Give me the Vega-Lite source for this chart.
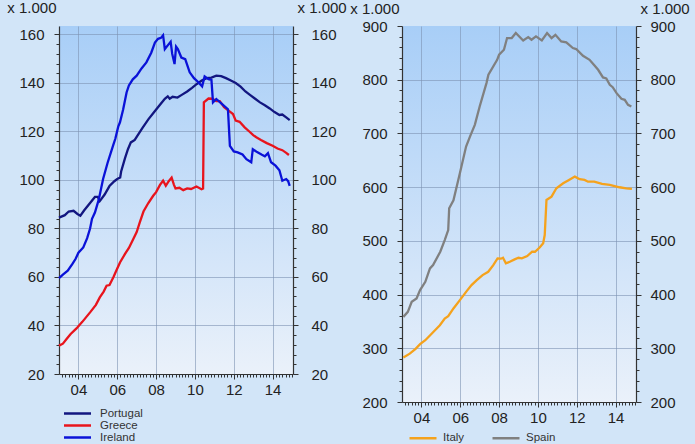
{
  "$schema": "https://vega.github.io/schema/vega-lite/v6.json",
  "background": "#d2e5f8",
  "padding": {"left": 6, "top": 0, "right": 5, "bottom": 0},
  "spacing": 2,
  "config": {
    "view": {"stroke": null, "fill": {"gradient": "linear", "x1": 0, "y1": 0, "x2": 0, "y2": 1, "stops": [{"offset": 0, "color": "#a8cef7"}, {"offset": 1, "color": "#eaf1fa"}]}},
    "font": "Liberation Sans",
    "axis": {"labelFont": "Liberation Sans", "labelFontSize": 15, "labelColor": "#222222", "domainColor": "#333333", "domainWidth": 1.2, "tickColor": "#333333", "gridColor": "#7d93b2", "titleFont": "Liberation Sans", "titleFontSize": 15, "titleFontWeight": "normal", "titleColor": "#222222", "labelOverlap": false, "labelFlush": false},
    "legend": {"labelFont": "Liberation Sans", "labelFontSize": 11.5, "labelColor": "#333333", "symbolStrokeWidth": 2.5, "padding": 0, "title": null}
  },
  "resolve": {"scale": {"color": "independent"}},
  "datasets": {
    "left": [
      {"country": "Portugal", "t": 2003.0, "v": 84.5}, {"country": "Portugal", "t": 2003.3, "v": 85.5}, {"country": "Portugal", "t": 2003.5, "v": 87}, {"country": "Portugal", "t": 2003.75, "v": 87.3}, {"country": "Portugal", "t": 2003.95, "v": 86}, {"country": "Portugal", "t": 2004.1, "v": 85.3}, {"country": "Portugal", "t": 2004.3, "v": 87.5}, {"country": "Portugal", "t": 2004.6, "v": 90.5}, {"country": "Portugal", "t": 2004.85, "v": 93}, {"country": "Portugal", "t": 2005.0, "v": 93}, {"country": "Portugal", "t": 2005.1, "v": 91.3}, {"country": "Portugal", "t": 2005.35, "v": 94}, {"country": "Portugal", "t": 2005.6, "v": 97.5}, {"country": "Portugal", "t": 2005.85, "v": 99.5}, {"country": "Portugal", "t": 2006.0, "v": 100.4}, {"country": "Portugal", "t": 2006.15, "v": 101}, {"country": "Portugal", "t": 2006.2, "v": 103.5}, {"country": "Portugal", "t": 2006.4, "v": 109}, {"country": "Portugal", "t": 2006.55, "v": 112.7}, {"country": "Portugal", "t": 2006.7, "v": 115.5}, {"country": "Portugal", "t": 2006.9, "v": 116.5}, {"country": "Portugal", "t": 2007.1, "v": 119}, {"country": "Portugal", "t": 2007.3, "v": 121.5}, {"country": "Portugal", "t": 2007.6, "v": 125}, {"country": "Portugal", "t": 2007.9, "v": 128}, {"country": "Portugal", "t": 2008.2, "v": 131}, {"country": "Portugal", "t": 2008.45, "v": 133.5}, {"country": "Portugal", "t": 2008.6, "v": 134.5}, {"country": "Portugal", "t": 2008.7, "v": 133.5}, {"country": "Portugal", "t": 2008.85, "v": 134.3}, {"country": "Portugal", "t": 2009.1, "v": 134}, {"country": "Portugal", "t": 2009.3, "v": 135}, {"country": "Portugal", "t": 2009.6, "v": 136.5}, {"country": "Portugal", "t": 2009.85, "v": 138}, {"country": "Portugal", "t": 2010.1, "v": 139.6}, {"country": "Portugal", "t": 2010.35, "v": 141}, {"country": "Portugal", "t": 2010.6, "v": 142}, {"country": "Portugal", "t": 2010.85, "v": 142.2}, {"country": "Portugal", "t": 2011.1, "v": 143}, {"country": "Portugal", "t": 2011.35, "v": 142.8}, {"country": "Portugal", "t": 2011.6, "v": 142}, {"country": "Portugal", "t": 2011.85, "v": 141}, {"country": "Portugal", "t": 2012.1, "v": 140}, {"country": "Portugal", "t": 2012.35, "v": 138.5}, {"country": "Portugal", "t": 2012.6, "v": 136.5}, {"country": "Portugal", "t": 2012.85, "v": 135}, {"country": "Portugal", "t": 2013.1, "v": 133.5}, {"country": "Portugal", "t": 2013.35, "v": 132}, {"country": "Portugal", "t": 2013.6, "v": 130.8}, {"country": "Portugal", "t": 2013.85, "v": 129.5}, {"country": "Portugal", "t": 2014.1, "v": 128}, {"country": "Portugal", "t": 2014.35, "v": 126.8}, {"country": "Portugal", "t": 2014.5, "v": 127}, {"country": "Portugal", "t": 2014.7, "v": 125.8}, {"country": "Portugal", "t": 2014.88, "v": 124.7},
      {"country": "Greece", "t": 2003.0, "v": 31.7}, {"country": "Greece", "t": 2003.2, "v": 32.5}, {"country": "Greece", "t": 2003.4, "v": 34.5}, {"country": "Greece", "t": 2003.6, "v": 36.5}, {"country": "Greece", "t": 2003.9, "v": 38.8}, {"country": "Greece", "t": 2004.2, "v": 41.5}, {"country": "Greece", "t": 2004.6, "v": 45.4}, {"country": "Greece", "t": 2004.9, "v": 48.5}, {"country": "Greece", "t": 2005.1, "v": 51.6}, {"country": "Greece", "t": 2005.3, "v": 54}, {"country": "Greece", "t": 2005.45, "v": 56.4}, {"country": "Greece", "t": 2005.6, "v": 56.7}, {"country": "Greece", "t": 2005.8, "v": 59.9}, {"country": "Greece", "t": 2006.0, "v": 63.5}, {"country": "Greece", "t": 2006.14, "v": 66}, {"country": "Greece", "t": 2006.4, "v": 69.5}, {"country": "Greece", "t": 2006.6, "v": 72}, {"country": "Greece", "t": 2006.82, "v": 75.6}, {"country": "Greece", "t": 2007.0, "v": 78.5}, {"country": "Greece", "t": 2007.16, "v": 82.5}, {"country": "Greece", "t": 2007.35, "v": 87}, {"country": "Greece", "t": 2007.6, "v": 90.5}, {"country": "Greece", "t": 2007.85, "v": 93.5}, {"country": "Greece", "t": 2008.0, "v": 95}, {"country": "Greece", "t": 2008.2, "v": 98}, {"country": "Greece", "t": 2008.36, "v": 99.7}, {"country": "Greece", "t": 2008.5, "v": 97.6}, {"country": "Greece", "t": 2008.65, "v": 99.5}, {"country": "Greece", "t": 2008.8, "v": 101}, {"country": "Greece", "t": 2008.92, "v": 98}, {"country": "Greece", "t": 2009.0, "v": 96.5}, {"country": "Greece", "t": 2009.2, "v": 96.8}, {"country": "Greece", "t": 2009.4, "v": 95.8}, {"country": "Greece", "t": 2009.6, "v": 96.5}, {"country": "Greece", "t": 2009.8, "v": 96.3}, {"country": "Greece", "t": 2010.08, "v": 97.3}, {"country": "Greece", "t": 2010.34, "v": 96.2}, {"country": "Greece", "t": 2010.42, "v": 96.5}, {"country": "Greece", "t": 2010.46, "v": 132}, {"country": "Greece", "t": 2010.7, "v": 133.6}, {"country": "Greece", "t": 2010.9, "v": 133.5}, {"country": "Greece", "t": 2011.1, "v": 132.5}, {"country": "Greece", "t": 2011.28, "v": 132.5}, {"country": "Greece", "t": 2011.5, "v": 130}, {"country": "Greece", "t": 2011.75, "v": 128.5}, {"country": "Greece", "t": 2011.96, "v": 127.2}, {"country": "Greece", "t": 2012.1, "v": 124.5}, {"country": "Greece", "t": 2012.3, "v": 124}, {"country": "Greece", "t": 2012.56, "v": 121.7}, {"country": "Greece", "t": 2012.8, "v": 120}, {"country": "Greece", "t": 2013.0, "v": 118.5}, {"country": "Greece", "t": 2013.16, "v": 117.6}, {"country": "Greece", "t": 2013.4, "v": 116.5}, {"country": "Greece", "t": 2013.7, "v": 115.2}, {"country": "Greece", "t": 2014.0, "v": 114.1}, {"country": "Greece", "t": 2014.25, "v": 113}, {"country": "Greece", "t": 2014.5, "v": 112.3}, {"country": "Greece", "t": 2014.7, "v": 111.2}, {"country": "Greece", "t": 2014.84, "v": 110.3},
      {"country": "Ireland", "t": 2003.0, "v": 59.5}, {"country": "Ireland", "t": 2003.2, "v": 61}, {"country": "Ireland", "t": 2003.45, "v": 62.6}, {"country": "Ireland", "t": 2003.7, "v": 65.5}, {"country": "Ireland", "t": 2003.85, "v": 67.4}, {"country": "Ireland", "t": 2004.0, "v": 70}, {"country": "Ireland", "t": 2004.25, "v": 72.2}, {"country": "Ireland", "t": 2004.45, "v": 76}, {"country": "Ireland", "t": 2004.6, "v": 80}, {"country": "Ireland", "t": 2004.7, "v": 84}, {"country": "Ireland", "t": 2004.85, "v": 86.6}, {"country": "Ireland", "t": 2005.05, "v": 92}, {"country": "Ireland", "t": 2005.27, "v": 100.4}, {"country": "Ireland", "t": 2005.5, "v": 107}, {"country": "Ireland", "t": 2005.78, "v": 114.1}, {"country": "Ireland", "t": 2005.9, "v": 117}, {"country": "Ireland", "t": 2006.05, "v": 122}, {"country": "Ireland", "t": 2006.14, "v": 123.8}, {"country": "Ireland", "t": 2006.3, "v": 129}, {"country": "Ireland", "t": 2006.48, "v": 136.1}, {"country": "Ireland", "t": 2006.6, "v": 139}, {"country": "Ireland", "t": 2006.8, "v": 141.5}, {"country": "Ireland", "t": 2007.0, "v": 143}, {"country": "Ireland", "t": 2007.25, "v": 146}, {"country": "Ireland", "t": 2007.5, "v": 148.5}, {"country": "Ireland", "t": 2007.75, "v": 152.5}, {"country": "Ireland", "t": 2007.94, "v": 156.7}, {"country": "Ireland", "t": 2008.1, "v": 158.2}, {"country": "Ireland", "t": 2008.25, "v": 158.6}, {"country": "Ireland", "t": 2008.36, "v": 159.7}, {"country": "Ireland", "t": 2008.45, "v": 154}, {"country": "Ireland", "t": 2008.6, "v": 155.5}, {"country": "Ireland", "t": 2008.75, "v": 157}, {"country": "Ireland", "t": 2008.83, "v": 152}, {"country": "Ireland", "t": 2008.95, "v": 147.8}, {"country": "Ireland", "t": 2009.03, "v": 155}, {"country": "Ireland", "t": 2009.12, "v": 154}, {"country": "Ireland", "t": 2009.3, "v": 150.5}, {"country": "Ireland", "t": 2009.5, "v": 149.8}, {"country": "Ireland", "t": 2009.73, "v": 144.4}, {"country": "Ireland", "t": 2009.95, "v": 142}, {"country": "Ireland", "t": 2010.15, "v": 140.5}, {"country": "Ireland", "t": 2010.37, "v": 138.6}, {"country": "Ireland", "t": 2010.5, "v": 142.7}, {"country": "Ireland", "t": 2010.7, "v": 141.6}, {"country": "Ireland", "t": 2010.85, "v": 141.3}, {"country": "Ireland", "t": 2010.93, "v": 132}, {"country": "Ireland", "t": 2011.1, "v": 133.4}, {"country": "Ireland", "t": 2011.4, "v": 131.3}, {"country": "Ireland", "t": 2011.7, "v": 129.2}, {"country": "Ireland", "t": 2011.8, "v": 114.1}, {"country": "Ireland", "t": 2012.0, "v": 111.8}, {"country": "Ireland", "t": 2012.2, "v": 111.4}, {"country": "Ireland", "t": 2012.45, "v": 110.5}, {"country": "Ireland", "t": 2012.65, "v": 108.6}, {"country": "Ireland", "t": 2012.9, "v": 107.3}, {"country": "Ireland", "t": 2012.98, "v": 112.7}, {"country": "Ireland", "t": 2013.2, "v": 111.5}, {"country": "Ireland", "t": 2013.45, "v": 110.4}, {"country": "Ireland", "t": 2013.6, "v": 109.8}, {"country": "Ireland", "t": 2013.76, "v": 111.1}, {"country": "Ireland", "t": 2013.92, "v": 107.3}, {"country": "Ireland", "t": 2014.15, "v": 105.9}, {"country": "Ireland", "t": 2014.35, "v": 104}, {"country": "Ireland", "t": 2014.5, "v": 99.7}, {"country": "Ireland", "t": 2014.7, "v": 100.4}, {"country": "Ireland", "t": 2014.8, "v": 99.5}, {"country": "Ireland", "t": 2014.88, "v": 97.6}
    ],
    "right": [
      {"country": "Italy", "t": 2003.07, "v": 282.8}, {"country": "Italy", "t": 2003.4, "v": 290}, {"country": "Italy", "t": 2003.7, "v": 299}, {"country": "Italy", "t": 2003.93, "v": 307.6}, {"country": "Italy", "t": 2004.2, "v": 315}, {"country": "Italy", "t": 2004.45, "v": 324.4}, {"country": "Italy", "t": 2004.7, "v": 333.7}, {"country": "Italy", "t": 2004.95, "v": 343}, {"country": "Italy", "t": 2005.2, "v": 355.5}, {"country": "Italy", "t": 2005.38, "v": 359.8}, {"country": "Italy", "t": 2005.65, "v": 374.2}, {"country": "Italy", "t": 2005.98, "v": 389.6}, {"country": "Italy", "t": 2006.3, "v": 405.1}, {"country": "Italy", "t": 2006.58, "v": 417.6}, {"country": "Italy", "t": 2006.85, "v": 426.9}, {"country": "Italy", "t": 2007.15, "v": 436.2}, {"country": "Italy", "t": 2007.44, "v": 442.4}, {"country": "Italy", "t": 2007.7, "v": 454.9}, {"country": "Italy", "t": 2007.92, "v": 467.4}, {"country": "Italy", "t": 2008.1, "v": 466.8}, {"country": "Italy", "t": 2008.2, "v": 468.5}, {"country": "Italy", "t": 2008.35, "v": 458.1}, {"country": "Italy", "t": 2008.55, "v": 461}, {"country": "Italy", "t": 2008.8, "v": 465.5}, {"country": "Italy", "t": 2009.0, "v": 468.5}, {"country": "Italy", "t": 2009.17, "v": 467.4}, {"country": "Italy", "t": 2009.45, "v": 471.7}, {"country": "Italy", "t": 2009.7, "v": 480}, {"country": "Italy", "t": 2009.85, "v": 479.7}, {"country": "Italy", "t": 2010.1, "v": 488}, {"country": "Italy", "t": 2010.27, "v": 495.4}, {"country": "Italy", "t": 2010.35, "v": 510.8}, {"country": "Italy", "t": 2010.44, "v": 576.1}, {"country": "Italy", "t": 2010.7, "v": 582.3}, {"country": "Italy", "t": 2010.95, "v": 597.9}, {"country": "Italy", "t": 2011.3, "v": 607.2}, {"country": "Italy", "t": 2011.6, "v": 613.4}, {"country": "Italy", "t": 2011.9, "v": 619.6}, {"country": "Italy", "t": 2012.15, "v": 614.7}, {"country": "Italy", "t": 2012.4, "v": 613.4}, {"country": "Italy", "t": 2012.58, "v": 610.2}, {"country": "Italy", "t": 2012.9, "v": 610.2}, {"country": "Italy", "t": 2013.3, "v": 605.9}, {"country": "Italy", "t": 2013.7, "v": 604.1}, {"country": "Italy", "t": 2014.0, "v": 601.5}, {"country": "Italy", "t": 2014.2, "v": 599.8}, {"country": "Italy", "t": 2014.55, "v": 597.9}, {"country": "Italy", "t": 2014.84, "v": 596.6},
      {"country": "Spain", "t": 2003.07, "v": 358.5}, {"country": "Spain", "t": 2003.3, "v": 367.8}, {"country": "Spain", "t": 2003.5, "v": 386.5}, {"country": "Spain", "t": 2003.75, "v": 392.8}, {"country": "Spain", "t": 2003.93, "v": 408.3}, {"country": "Spain", "t": 2004.2, "v": 423.8}, {"country": "Spain", "t": 2004.44, "v": 448.7}, {"country": "Spain", "t": 2004.6, "v": 454.9}, {"country": "Spain", "t": 2004.97, "v": 479.7}, {"country": "Spain", "t": 2005.2, "v": 501.5}, {"country": "Spain", "t": 2005.38, "v": 520.2}, {"country": "Spain", "t": 2005.43, "v": 560.6}, {"country": "Spain", "t": 2005.65, "v": 575.6}, {"country": "Spain", "t": 2005.98, "v": 625.9}, {"country": "Spain", "t": 2006.3, "v": 675.5}, {"country": "Spain", "t": 2006.5, "v": 694.1}, {"country": "Spain", "t": 2006.75, "v": 716}, {"country": "Spain", "t": 2007.0, "v": 750}, {"country": "Spain", "t": 2007.35, "v": 793.7}, {"country": "Spain", "t": 2007.45, "v": 809.2}, {"country": "Spain", "t": 2007.9, "v": 837}, {"country": "Spain", "t": 2008.0, "v": 846.5}, {"country": "Spain", "t": 2008.25, "v": 855.8}, {"country": "Spain", "t": 2008.41, "v": 877.6}, {"country": "Spain", "t": 2008.65, "v": 877.6}, {"country": "Spain", "t": 2008.86, "v": 886.9}, {"country": "Spain", "t": 2009.24, "v": 873.1}, {"country": "Spain", "t": 2009.5, "v": 879.4}, {"country": "Spain", "t": 2009.67, "v": 874.4}, {"country": "Spain", "t": 2009.9, "v": 880.6}, {"country": "Spain", "t": 2010.2, "v": 873.1}, {"country": "Spain", "t": 2010.47, "v": 886.9}, {"country": "Spain", "t": 2010.7, "v": 877.6}, {"country": "Spain", "t": 2010.9, "v": 883.7}, {"country": "Spain", "t": 2011.2, "v": 871.3}, {"country": "Spain", "t": 2011.46, "v": 869.4}, {"country": "Spain", "t": 2011.8, "v": 859}, {"country": "Spain", "t": 2011.97, "v": 857.1}, {"country": "Spain", "t": 2012.32, "v": 844.6}, {"country": "Spain", "t": 2012.66, "v": 837.1}, {"country": "Spain", "t": 2012.88, "v": 827.8}, {"country": "Spain", "t": 2013.1, "v": 818.5}, {"country": "Spain", "t": 2013.35, "v": 804.2}, {"country": "Spain", "t": 2013.52, "v": 802.4}, {"country": "Spain", "t": 2013.7, "v": 790.5}, {"country": "Spain", "t": 2013.85, "v": 786.1}, {"country": "Spain", "t": 2014.05, "v": 775}, {"country": "Spain", "t": 2014.3, "v": 764.5}, {"country": "Spain", "t": 2014.47, "v": 762.6}, {"country": "Spain", "t": 2014.64, "v": 753.3}, {"country": "Spain", "t": 2014.81, "v": 750.1}
    ]
  },
  "hconcat": [
    {
      "width": 234,
      "height": 348,
      "data": {"name": "left"},
      "resolve": {"axis": {"y": "independent"}},
      "encoding": {
        "x": {"field": "t", "type": "quantitative", "scale": {"domain": [2003, 2015.05], "nice": false, "zero": false},
          "axis": {"orient": "bottom", "title": null, "grid": true, "values": [2003.1667, 2003.3333, 2003.5, 2003.6667, 2003.8333, 2004, 2004.1667, 2004.3333, 2004.5, 2004.6667, 2004.8333, 2005, 2005.1667, 2005.3333, 2005.5, 2005.6667, 2005.8333, 2006, 2006.1667, 2006.3333, 2006.5, 2006.6667, 2006.8333, 2007, 2007.1667, 2007.3333, 2007.5, 2007.6667, 2007.8333, 2008, 2008.1667, 2008.3333, 2008.5, 2008.6667, 2008.8333, 2009, 2009.1667, 2009.3333, 2009.5, 2009.6667, 2009.8333, 2010, 2010.1667, 2010.3333, 2010.5, 2010.6667, 2010.8333, 2011, 2011.1667, 2011.3333, 2011.5, 2011.6667, 2011.8333, 2012, 2012.1667, 2012.3333, 2012.5, 2012.6667, 2012.8333, 2013, 2013.1667, 2013.3333, 2013.5, 2013.6667, 2013.8333, 2014, 2014.1667, 2014.3333, 2014.5, 2014.6667, 2014.8333, 2015],
            "labelExpr": "datum.value % 2 == 0 ? slice('0' + (datum.value % 100), -2) : ''",
            "tickSize": {"condition": {"test": "datum.value % 2 == 0", "value": 5}, "value": 3},
            "gridOpacity": {"condition": {"test": "datum.value % 2 == 0", "value": 0.6}, "value": 0},
            "labelPadding": 3}}
      },
      "layer": [
        {
          "mark": {"type": "line", "strokeWidth": 2.3},
          "encoding": {
            "y": {"field": "v", "type": "quantitative", "scale": {"domain": [20, 163.5], "nice": false, "zero": false},
              "axis": {"orient": "left", "title": "x 1.000", "titleAngle": 0, "titleX": -3, "titleY": -14, "titleAlign": "right", "titleBaseline": "alphabetic", "format": "d",
                "values": [20, 24, 28, 32, 36, 40, 44, 48, 52, 56, 60, 64, 68, 72, 76, 80, 84, 88, 92, 96, 100, 104, 108, 112, 116, 120, 124, 128, 132, 136, 140, 144, 148, 152, 156, 160],
                "labelExpr": "datum.value % 20 == 0 ? datum.label : ''",
                "tickSize": {"condition": {"test": "datum.value % 20 == 0", "value": 5}, "value": 3},
                "grid": true,
                "gridOpacity": {"condition": {"test": "datum.value % 20 == 0 && datum.value > 20", "value": 0.6}, "value": 0},
                "labelPadding": 10}},
            "color": {"field": "country", "type": "nominal", "scale": {"domain": ["Portugal", "Greece", "Ireland"], "range": ["#121680", "#e8141c", "#0a12d8"]},
              "legend": {"orient": "none", "legendX": 12, "legendY": 381, "direction": "vertical", "rowPadding": -1.6, "symbolType": "M-2.7,0H2.7", "symbolSize": 100, "labelOffset": 16}}
          }
        },
        {
          "mark": {"type": "point", "opacity": 0},
          "encoding": {
            "y": {"field": "v", "type": "quantitative",
              "axis": {"orient": "right", "title": "x 1.000", "titleAngle": 0, "titleX": 4, "titleY": -14, "titleAlign": "left", "titleBaseline": "alphabetic", "format": "d",
                "values": [20, 24, 28, 32, 36, 40, 44, 48, 52, 56, 60, 64, 68, 72, 76, 80, 84, 88, 92, 96, 100, 104, 108, 112, 116, 120, 124, 128, 132, 136, 140, 144, 148, 152, 156, 160],
                "labelExpr": "datum.value % 20 == 0 ? datum.label : ''",
                "tickSize": {"condition": {"test": "datum.value % 20 == 0", "value": 5}, "value": 3},
                "grid": false,
                "labelPadding": 13}}
          }
        }
      ]
    },
    {
      "width": 234,
      "height": 376,
      "data": {"name": "right"},
      "resolve": {"axis": {"y": "independent"}},
      "encoding": {
        "x": {"field": "t", "type": "quantitative", "scale": {"domain": [2003, 2015.05], "nice": false, "zero": false},
          "axis": {"orient": "bottom", "title": null, "grid": true, "values": [2003.1667, 2003.3333, 2003.5, 2003.6667, 2003.8333, 2004, 2004.1667, 2004.3333, 2004.5, 2004.6667, 2004.8333, 2005, 2005.1667, 2005.3333, 2005.5, 2005.6667, 2005.8333, 2006, 2006.1667, 2006.3333, 2006.5, 2006.6667, 2006.8333, 2007, 2007.1667, 2007.3333, 2007.5, 2007.6667, 2007.8333, 2008, 2008.1667, 2008.3333, 2008.5, 2008.6667, 2008.8333, 2009, 2009.1667, 2009.3333, 2009.5, 2009.6667, 2009.8333, 2010, 2010.1667, 2010.3333, 2010.5, 2010.6667, 2010.8333, 2011, 2011.1667, 2011.3333, 2011.5, 2011.6667, 2011.8333, 2012, 2012.1667, 2012.3333, 2012.5, 2012.6667, 2012.8333, 2013, 2013.1667, 2013.3333, 2013.5, 2013.6667, 2013.8333, 2014, 2014.1667, 2014.3333, 2014.5, 2014.6667, 2014.8333, 2015],
            "labelExpr": "datum.value % 2 == 0 ? slice('0' + (datum.value % 100), -2) : ''",
            "tickSize": {"condition": {"test": "datum.value % 2 == 0", "value": 5}, "value": 3},
            "gridOpacity": {"condition": {"test": "datum.value % 2 == 0", "value": 0.6}, "value": 0},
            "labelPadding": 3}}
      },
      "layer": [
        {
          "mark": {"type": "line", "strokeWidth": 2.3},
          "encoding": {
            "y": {"field": "v", "type": "quantitative", "scale": {"domain": [200, 900], "nice": false, "zero": false},
              "axis": {"orient": "left", "title": "x 1.000", "titleAngle": 0, "titleX": -3, "titleY": -13, "titleAlign": "right", "titleBaseline": "alphabetic", "format": "d",
                "values": [200, 220, 240, 260, 280, 300, 320, 340, 360, 380, 400, 420, 440, 460, 480, 500, 520, 540, 560, 580, 600, 620, 640, 660, 680, 700, 720, 740, 760, 780, 800, 820, 840, 860, 880, 900],
                "labelExpr": "datum.value % 100 == 0 ? datum.label : ''",
                "tickSize": {"condition": {"test": "datum.value % 100 == 0", "value": 5}, "value": 3},
                "grid": true,
                "gridOpacity": {"condition": {"test": "datum.value % 100 == 0 && datum.value > 200 && datum.value < 900", "value": 0.6}, "value": 0},
                "labelPadding": 10}},
            "color": {"field": "country", "type": "nominal", "scale": {"domain": ["Italy", "Spain"], "range": ["#f5a21c", "#808080"]},
              "legend": {"orient": "none", "legendX": 6, "legendY": 397, "direction": "horizontal", "columns": 2, "columnPadding": 22, "symbolType": "stroke", "symbolSize": 729, "labelOffset": 5}}
          }
        },
        {
          "mark": {"type": "point", "opacity": 0},
          "encoding": {
            "y": {"field": "v", "type": "quantitative",
              "axis": {"orient": "right", "title": "x 1.000", "titleAngle": 0, "titleX": 4, "titleY": -13, "titleAlign": "left", "titleBaseline": "alphabetic", "format": "d",
                "values": [200, 220, 240, 260, 280, 300, 320, 340, 360, 380, 400, 420, 440, 460, 480, 500, 520, 540, 560, 580, 600, 620, 640, 660, 680, 700, 720, 740, 760, 780, 800, 820, 840, 860, 880, 900],
                "labelExpr": "datum.value % 100 == 0 ? datum.label : ''",
                "tickSize": {"condition": {"test": "datum.value % 100 == 0", "value": 5}, "value": 3},
                "grid": false,
                "labelPadding": 9}}
          }
        }
      ]
    }
  ]
}
